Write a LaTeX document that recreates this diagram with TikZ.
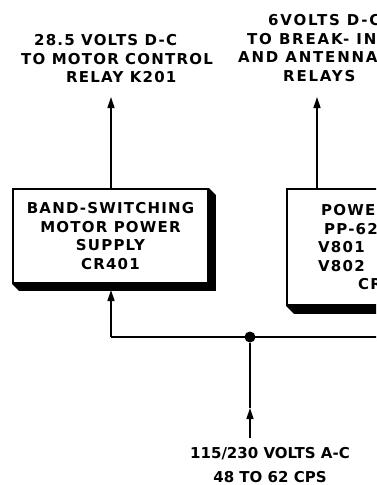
\documentclass[tikz,border=0pt]{standalone}
\usepackage{fontspec}
\newfontfamily\lett[LetterSpace=8]{DejaVu Sans Bold}
\newfontfamily\lettw[LetterSpace=12]{DejaVu Sans Bold}
\newfontfamily\lettn{DejaVu Sans Bold}
\usetikzlibrary{arrows.meta,calc}
\tikzset{
  lbl/.style={font=\lett\fontsize{15}{18.5}\selectfont, align=center, inner sep=0pt},
  blk/.style={draw, line width=1.8pt, inner sep=0pt},
  conn/.style={line width=1.4pt},
  tip/.style={-{Triangle[length=11pt,width=7pt]}},
  dot/.style={circle, fill, inner sep=0pt, minimum size=11pt},
  shade/.style={fill=black}
}
\begin{document}
\begin{tikzpicture}[x=1pt,y=-1pt]
\useasboundingbox (0,0) rectangle (376,485);
\clip (0,0) rectangle (376,485);
% top labels
\node[lbl, align=left, anchor=west] (tl) at (21,59)
  {\hspace*{13pt}28.5 VOLTS D-C\\TO MOTOR CONTROL\\\hspace*{45pt}RELAY K201};
\node[lbl, font=\lettw\fontsize{15}{18.5}\selectfont, align=left, anchor=west] (tr) at (238,48)
  {\hspace*{30pt}6VOLTS D-C\\\hspace*{9pt}TO BREAK- IN\\AND ANTENNA\\\hspace*{45pt}RELAYS};
% boxes
\node[blk, minimum width=195pt, minimum height=94pt, lbl, draw, line width=1.8pt] (lb) at (110.5,236)
  {BAND-SWITCHING\\MOTOR POWER\\SUPPLY\\CR401};
\node[blk, minimum width=200pt, minimum height=116pt] (rb) at (387,247) {};
\fill[shade] (lb.north east) -- ++(7,7) -- ($(lb.south east)+(7,7)$) -- ($(lb.south west)+(7,7)$) -- (lb.south west) -- (lb.south east) -- cycle;
\fill[shade] (rb.south west) -- ++(8,8) -- ($(rb.south east)+(8,8)$) -- (rb.south east) -- cycle;
\node[lbl, align=left, anchor=north west] (rt) at (318,204.5)
  {\hspace*{3pt}POWER\\\hspace*{6pt}PP-62\\V801\\V802\\\hspace*{40pt}CR};
% bottom label
\node[lbl, font=\lettn\fontsize{15}{24}\selectfont] (bt) at (270,465) {115/230 VOLTS A-C\\48 TO 62 CPS};
% connectors
\coordinate (ltip) at (111,97);
\coordinate (rtip) at (317,97);
\draw[conn,tip] (lb.north -| ltip) -- (ltip);
\draw[conn,tip] (rb.north -| rtip) -- (rtip);
\node[dot] (j) at (250,337) {};
\coordinate (bl) at (111,337);
\coordinate (br) at (390,337);
\coordinate (lin) at (111,290);
\draw[conn] (br) -- (bl);
\draw[conn,tip] (bl) -- (lin);
\coordinate (in) at (250,438);
\coordinate (inmid) at (250,408);
\draw[conn,tip] (in) -- (inmid);
\draw[conn] (inmid) -- (j);
\end{tikzpicture}
\end{document}
